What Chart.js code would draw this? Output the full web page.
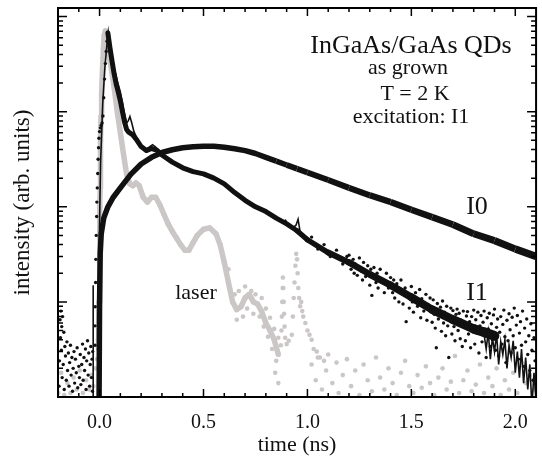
<!DOCTYPE html>
<html><head><meta charset="utf-8">
<script src="https://cdn.jsdelivr.net/npm/chart.js@4.4.0/dist/chart.umd.min.js"></script>
<style>html,body{margin:0;padding:0;background:#fff}canvas{display:block}</style>
</head><body>
<canvas id="c" width="542" height="456"></canvas>
<script>
// ---- tick values ----
const xTickValues=[0,0.5,1,1.5,2];
const xMinorTicks=[-0.1,0,0.1,0.2,0.3,0.4,0.5,0.6,0.7,0.8,0.9,1,1.1,1.2,1.3,1.4,1.5,1.6,1.7,1.8,1.9,2];
const yMajorTicks=[1,10,100,1000,10000];
const yMinorTicks=[2,3,4,5,6,7,8,9,20,30,40,50,60,70,80,90,200,300,400,500,600,700,800,900,2000,3000,4000,5000,6000,7000,8000,9000];

// ---- I0 (rising curve) ----
const i0T=[-0.003,0.0,0.003,0.008,0.02,0.04,0.066,0.1,0.15,0.2,0.25,0.3,0.35,0.4,0.45,0.5,0.55,0.6,0.65,0.7,0.75,0.8,0.85,0.9,0.95,1.0,1.1,1.2,1.3,1.4,1.5,1.6,1.7,1.8,1.9,2.0,2.1];
const i0I=[0.5,10,32,52,76,100,126,158,219,282,331,372,398,417,427,432,432,422,407,389,363,331,302,275,251,229,191,158,132,112,93,78,65,52,44,36,30];

// ---- I1 data band ----
const i1T=[0.04,0.05,0.06,0.07,0.08,0.09,0.1,0.11,0.12,0.13,0.14,0.16,0.18,0.2,0.225,0.25,0.275,0.3,0.35,0.4,0.45,0.5,0.55,0.6,0.65,0.7,0.75,0.8,0.85,0.9,0.95,1.0,1.1,1.2,1.3,1.4,1.5,1.6,1.7,1.8,1.85,1.9];
const i1I=[6700,4700,3400,2500,1950,1600,1300,1000,780,650,610,570,500,430,390,410,395,350,295,257,234,222,200,174,141,117,100,89,76,66,56,45,33,26,19.5,15,11.2,8.3,6.5,5.2,4.8,4.4];

// ---- I1 fit line ----
const fitT=[-0.0315,-0.031,-0.0305,-0.002,-0.001,0.0,0.005,0.015,0.025,0.035,0.042,0.055,0.07,0.085,0.1,0.11,0.12,0.13,0.138,0.146,0.155,0.165,0.18,0.2,0.22,0.24,0.255,0.27,0.29,0.32,0.35,0.4,0.45,0.5,0.55,0.6,0.65,0.7,0.75,0.8,0.85,0.88,0.895,0.905,0.93,0.945,0.955,0.965,0.98,1.0,1.1,1.2,1.3,1.4,1.5,1.6,1.7,1.8,1.85,1.86,1.87,1.88,1.89,1.9,1.91,1.92,1.93,1.94,1.95,1.96,1.97,1.98,1.99,2.0,2.01,2.02,2.03,2.04,2.05,2.06,2.07,2.08,2.09,2.1];
const fitI=[0.5,15,0.5,0.5,10,60,300,1200,2800,5000,6900,4400,2900,2100,1600,1250,950,760,800,890,760,620,520,440,400,425,450,425,370,320,292,257,234,222,200,174,141,117,100,89,76,70,72,66,60,64,74,54,50,45,33,26,19.5,15,11.2,8.3,6.5,5.2,4.5,3.2,4.8,2.5,4.2,3.0,4.6,2.2,3.8,2.8,4.0,2.0,3.5,2.6,3.9,1.8,3.0,1.6,3.2,1.4,2.6,1.2,2.2,0.8,1.8,0.9];

// ---- I1 scattered dots: rise ----
const i1RiseT=[-0.022,-0.022,-0.021,-0.019,-0.018,-0.016,-0.014,-0.013,-0.011,-0.009,-0.007,-0.005,-0.003,0.0,0.004,0.008,0.012,0.016,0.02,0.024,0.028,0.032,0.036];
const i1RiseI=[3.5,5.6,8.9,16,28,50,79,112,158,224,316,417,525,617,676,720,760,900,1400,2200,3200,4300,5500];
// ---- I1 scattered dots: noisy tail ----
const i1TailT=[1.02,1.05,1.08,1.11,1.14,1.17,1.19,
1.2,1.21,1.22,1.225,1.23,1.24,1.25,1.26,1.265,1.27,1.28,1.29,1.3,1.305,1.31,1.32,1.33,1.335,1.34,1.35,1.36,1.37,1.38,1.39,1.4,
1.41,1.415,1.42,1.43,1.44,1.445,1.45,1.46,1.47,1.475,1.48,1.49,1.5,1.505,1.51,1.52,1.53,1.54,1.545,1.55,1.56,1.57,1.575,1.58,1.59,1.6,
1.605,1.61,1.615,1.62,1.625,1.63,1.64,1.645,1.65,1.655,1.66,1.665,1.67,1.675,1.68,1.685,1.69,1.695,1.7,1.705,1.71,1.715,1.72,1.725,1.73,1.735,1.74,1.745,1.75,1.755,1.76,1.765,1.77,1.775,1.78,1.785,1.79,1.795,1.8,
1.805,1.81,1.815,1.82,1.825,1.83,1.835,1.84,1.845,1.85,1.855,1.86,1.865,1.87,1.875,1.88,1.885,1.89,1.895,1.9,1.905,1.91,1.915,1.92,1.925,1.93,1.935,1.94,1.945,1.95,1.955,1.96,1.965,1.97,1.975,1.98,1.985,1.99,1.995,2.0,2.005,2.01,2.015,2.02,2.025,2.03,2.035,2.04,2.045,2.05,2.055,2.06,2.065,2.07,2.075,2.08,2.085,2.09,2.095];
const i1TailI=[48,36,40,30,35,25,30,
31,22,28,20,25,19,29,21,17,26,18.5,24,15,22,11.7,23,16,20,14,22,16.5,12.5,20,14,18,
12.5,17,11,15.5,10,13,17,9.5,14,6.2,11.5,8.6,14.5,10,7.8,12.5,9,13.5,6.8,10.8,8,12,6.4,9.4,11,6.1,
10.5,7.4,5.3,3.3,9.6,6.6,8.8,4.9,10.2,6.0,7.8,4.4,9.0,5.6,2.6,7.0,8.6,4.6,8.1,5.5,3.9,7.4,8.4,5.0,7.6,4.1,6.4,3.4,8.0,5.8,3.9,7.1,7.9,4.6,6.2,3.3,7.0,5.0,8.2,
3.6,6.5,4.7,7.8,2.9,5.6,7.2,3.8,6.1,8.0,4.4,2.6,6.8,5.2,7.6,3.4,5.9,4.0,7.3,8.4,3.1,5.4,6.6,2.7,4.8,7.0,3.6,5.8,8.2,4.3,2.3,6.4,3.9,7.5,5.1,2.9,6.9,4.4,8.6,3.3,5.7,7.2,2.5,4.7,6.2,3.5,8.0,2.1,5.3,3.8,6.6,2.8,4.4,1.9,5.9,3.1,1.5,4.2,2.4];
// ---- black pre-pulse noise ----
const noiseT=[-0.195,-0.193,-0.19,-0.188,-0.186,-0.184,-0.182,-0.18,-0.178,-0.175,-0.172,-0.17,-0.167,-0.164,-0.16,-0.157,-0.154,-0.15,-0.147,-0.144,-0.14,-0.137,-0.133,-0.13,-0.127,-0.123,-0.12,-0.116,-0.112,-0.108,-0.105,-0.1,-0.097,-0.093,-0.09,-0.086,-0.082,-0.079,-0.075,-0.072,-0.068,-0.065,-0.062,-0.058,-0.055,-0.052,-0.048,-0.045,-0.042,-0.039,-0.036,-0.034,-0.033];
const noiseI=[1.3,2.4,6.5,4.2,8.0,3.1,5.5,1.6,7.0,2.2,4.8,1.2,3.4,2.7,1.5,3.8,1.9,2.9,1.3,2.3,3.5,1.7,2.6,1.15,2.0,3.0,1.4,2.5,1.8,3.3,1.25,2.1,1.6,2.8,1.35,2.2,3.6,1.5,2.6,1.9,3.2,1.2,2.4,3.9,1.7,2.9,1.3,2.2,3.4,1.6,2.5,1.15,3.0];

// ---- laser (grey) ----
const laserT=[-0.005,-0.002,0.0,0.001,0.002,0.003,0.004,0.005,0.007,0.01,0.014,0.018,0.022,0.028,0.04,0.055,0.07,0.085,0.1,0.115,0.13,0.145,0.16,0.175,0.19,0.21,0.23,0.25,0.27,0.29,0.31,0.33,0.35,0.37,0.39,0.41,0.43,0.45,0.47,0.5,0.53,0.56,0.58,0.6,0.62,0.64,0.66,0.68,0.7,0.72,0.74,0.76,0.78,0.8,0.82,0.84,0.86];
const laserI=[3.2,10,32,56,100,158,282,501,891,1580,2820,4470,6310,7080,4500,3000,1800,1000,600,360,220,175,166,178,168,126,112,126,126,105,83,66,55,47,40,35,35,42,50,58,60,52,40,26,16,10,8.3,8.9,11,12,10,9.5,7.9,6,5,4,2.8];
const laserDotT=[0.62,0.63,0.65,0.66,0.67,0.69,0.7,0.71,0.73,0.74,0.75,0.77,0.78,0.79,0.8,0.81,0.82,0.83,0.84,0.85,0.86,0.845,0.86,
0.872,0.875,0.877,0.879,0.881,0.882,0.884,0.886,0.888,0.89,0.893,0.9,0.91,
0.925,0.93,0.934,0.938,0.942,0.946,0.95,0.953,0.956,0.96,0.965,0.97,0.975,0.98,0.99,1.0,1.01,1.02,1.03,1.045,1.06,1.08,
1.02,1.04,1.05,1.07,1.09,1.1,1.12,1.14,1.15,1.17,1.19,1.21,1.23,1.25,1.27,1.29,1.31,1.33,1.35,1.37,1.39,1.41,1.43,1.45,1.47,1.49,1.51,1.53,1.55,1.57,1.59,1.61,1.63,1.65,1.67,1.69,1.71,1.73,1.75,1.77,1.79,1.81,1.83,1.85,1.87,1.89,1.91,1.93,1.95,1.97,1.99,2.01,2.03,2.05,2.07,2.09,
-0.198,-0.185,-0.17,-0.155,-0.14,-0.125,-0.11,-0.095,-0.08,-0.065,-0.05,-0.04,-0.03,-0.02,-0.012,-0.008];
const laserDotI=[22,13,12,6.5,13,7,14.5,8.5,13,7.5,12,7,11,5.5,8.5,4.3,6.8,3.2,5.2,2.4,4.2,1.8,1.4,
3.5,5,7,10,14,18,14,10,7.5,5.5,4.2,3.6,3.9,
4.5,7,11,16,24,32,28,20,14,11,9,10,8,7,6,5,4.5,4,3.2,3,2.6,2.4,
2.2,1.5,2.6,1.2,1.9,2.8,1.4,2.3,1.1,1.7,2.5,1.3,1.9,1.05,2.2,1.5,1.15,2.6,1.6,1.2,2.0,1.4,1.05,1.8,2.4,1.3,1.1,1.7,1.25,2.1,1.4,1.05,1.6,2.0,1.2,1.45,2.7,1.1,1.5,1.9,1.15,1.35,2.2,1.1,1.6,1.3,2.0,1.05,1.5,1.2,1.8,1.1,2.3,1.4,1.7,1.2,
1.1,1.8,1.05,1.4,1.1,1.6,1.2,1.9,1.1,1.5,1.2,1.7,1.3,2.0,2.5,4];

const zip=(t,v)=>t.map((x,i)=>({x:x,y:v[i]}));
const BLACK='#111111', GREY='#cbc7c7', FONT="'Liberation Serif','Times New Roman',serif";

const frame={id:'frame',afterDatasetsDraw(chart){
  const {ctx,chartArea:a,scales:{x,y}}=chart;
  ctx.save();ctx.strokeStyle='#000';ctx.lineWidth=1.5;ctx.beginPath();
  xMinorTicks.forEach(v=>{const p=x.getPixelForValue(v);const L=xTickValues.includes(v)?8:4;
    ctx.moveTo(p,a.bottom);ctx.lineTo(p,a.bottom-L);ctx.moveTo(p,a.top);ctx.lineTo(p,a.top+L);});
  yMajorTicks.forEach(v=>{const p=y.getPixelForValue(v);
    ctx.moveTo(a.left,p);ctx.lineTo(a.left+9,p);ctx.moveTo(a.right,p);ctx.lineTo(a.right-9,p);});
  yMinorTicks.forEach(v=>{const p=y.getPixelForValue(v);
    ctx.moveTo(a.left,p);ctx.lineTo(a.left+5,p);ctx.moveTo(a.right,p);ctx.lineTo(a.right-5,p);});
  ctx.stroke();
  ctx.lineWidth=2;ctx.strokeRect(a.left,a.top,a.right-a.left,a.bottom-a.top);
  ctx.restore();
}};
const texts={id:'texts',afterDraw(chart){
  const ctx=chart.ctx;ctx.save();ctx.fillStyle=BLACK;ctx.textAlign='center';ctx.textBaseline='alphabetic';
  ctx.font='26px '+FONT;ctx.fillText('InGaAs/GaAs QDs',411,53);
  ctx.font='22px '+FONT;ctx.fillText('as grown',408,74);ctx.fillText('T = 2 K',415,100);ctx.fillText('excitation: I1',411,123);
  ctx.font='26px '+FONT;ctx.fillText('I0',477,214);ctx.fillText('I1',477,300);
  ctx.font='22px '+FONT;ctx.fillText('laser',196,299);
  ctx.restore();
}};
const clamp=(v,a,b)=>Math.max(a,Math.min(b,v));
const i1Width=c=>5+clamp((c.p0.parsed.x-0.9)*5,0,5);
const i0Width=c=>5.5+clamp((c.p0.parsed.x-0.8)*1.5,0,2);
const dots=(t,v,col,r)=>({data:zip(t,v),showLine:false,pointRadius:r,pointBorderWidth:0,pointBackgroundColor:col,order:2,clip:0});

new Chart(document.getElementById('c'),{
  type:'line',
  data:{datasets:[
    {data:zip(fitT,fitI),borderColor:BLACK,borderWidth:1.6,pointRadius:0,order:1,clip:0},
    {data:zip(i1T,i1I),borderColor:BLACK,borderWidth:5,segment:{borderWidth:i1Width},pointRadius:0,order:2,clip:0,borderJoinStyle:'round',borderCapStyle:'round'},
    dots(i1RiseT,i1RiseI,BLACK,1.7),
    dots(i1TailT,i1TailI,BLACK,1.7),
    dots(noiseT,noiseI,BLACK,1.7),
    {data:zip(i0T,i0I),borderColor:BLACK,borderWidth:5.5,segment:{borderWidth:i0Width},pointRadius:0,order:2,clip:0,borderJoinStyle:'round'},
    {data:zip(laserT,laserI),borderColor:GREY,borderWidth:5.5,pointRadius:2.6,pointBorderWidth:0,pointBackgroundColor:GREY,order:10,clip:0,borderJoinStyle:'round'},
    Object.assign(dots(laserDotT,laserDotI,GREY,2.3),{order:10})
  ]},
  options:{
    responsive:false,animation:false,devicePixelRatio:1,
    layout:{padding:{left:0,right:5,top:8,bottom:0}},
    plugins:{legend:{display:false},tooltip:{enabled:false}},
    elements:{line:{tension:0}},
    scales:{
      x:{type:'linear',min:-0.2,max:2.1,
        afterBuildTicks:s=>{s.ticks=xTickValues.map(v=>({value:v}));},
        afterFit:s=>{s.height=59;},
        grid:{display:false,drawTicks:false},border:{display:false},
        ticks:{padding:14,color:BLACK,font:{family:FONT,size:20},callback:v=>v.toFixed(1),maxRotation:0,autoSkip:false},
        title:{display:true,text:'time (ns)',color:BLACK,font:{family:FONT,size:22,lineHeight:1},padding:{top:0,bottom:0}}},
      y:{type:'logarithmic',min:1,max:12300,
        afterFit:s=>{s.width=58;},
        grid:{display:false,drawTicks:false},border:{display:false},
        ticks:{display:false},
        title:{display:true,text:'intensity (arb. units)',color:BLACK,font:{family:FONT,size:23,lineHeight:1},padding:{top:11,bottom:0}}}
    }
  },
  plugins:[frame,texts]
});
</script>
</body></html>
